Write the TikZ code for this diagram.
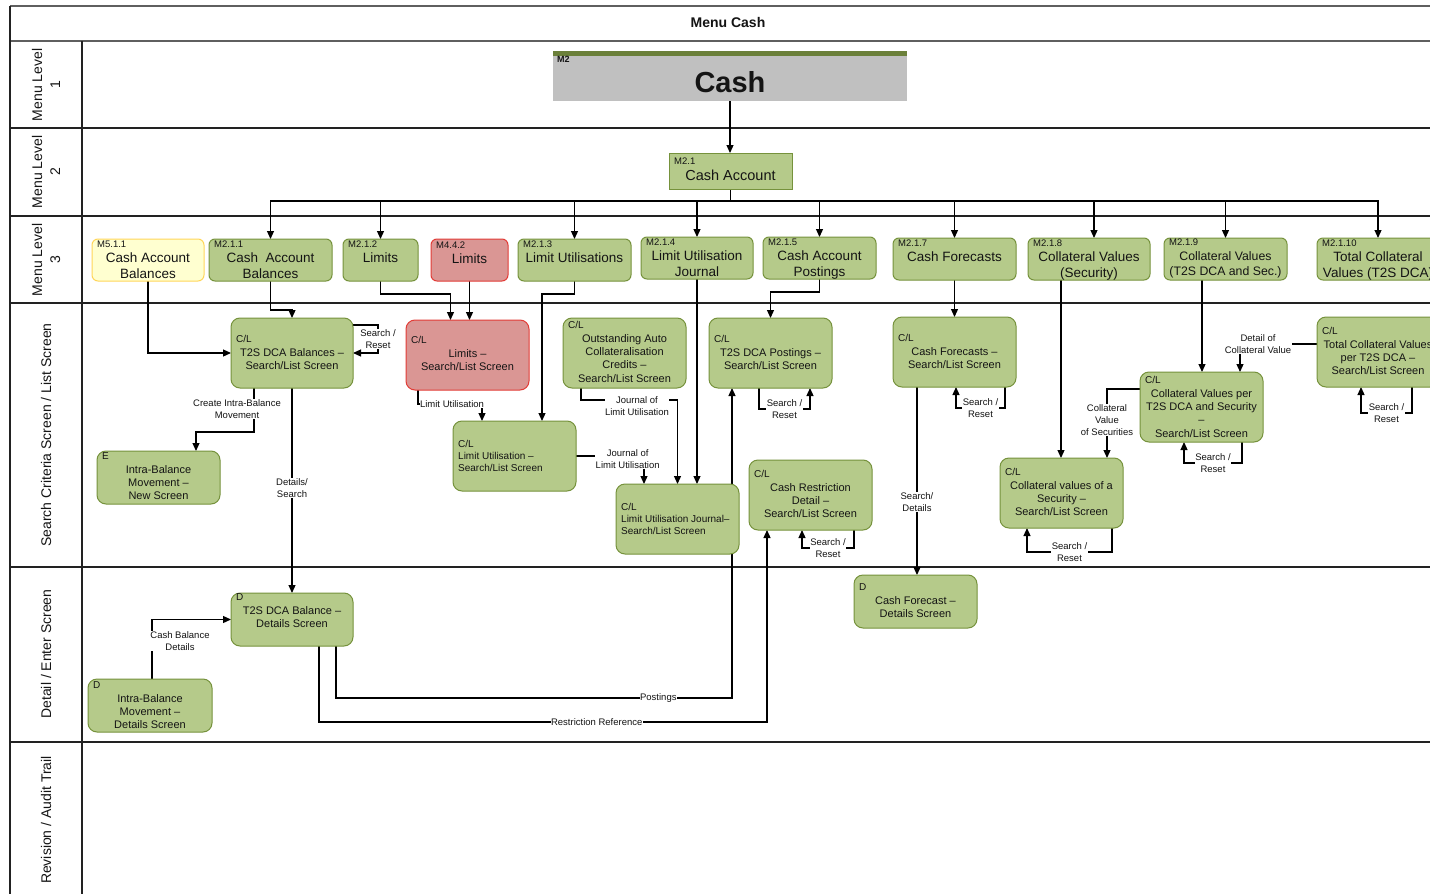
\documentclass[tikz,border=0pt]{standalone}
\usepackage{fontspec}
\setmainfont{Liberation Sans}
\usetikzlibrary{arrows.meta}
\pgfdeclarelayer{background}
\pgfsetlayers{background,main}
\definecolor{gfill}{RGB}{181,202,138}
\definecolor{gline}{RGB}{118,146,60}
\definecolor{rfill}{RGB}{218,150,148}
\definecolor{rline}{RGB}{226,60,55}
\definecolor{yfill}{RGB}{255,255,208}
\definecolor{yline}{RGB}{255,214,90}
\definecolor{cashgray}{RGB}{192,192,192}
\definecolor{cashbar}{RGB}{107,128,58}
\definecolor{lanecol}{RGB}{34,34,34}
\definecolor{topcol}{RGB}{95,95,95}
\definecolor{txtcol}{RGB}{20,20,20}
\newcommand\mybox[9]{%
  \node[#1, minimum width={(#5-#3)*1pt}, minimum height={(#6-#4)*1pt}] (#2) at ({(#3+#5)/2},{(#4+#6)/2}) {};
  \node[#1tag, anchor=north west] (#2-tag) at (#3+5,#8-3.5) {#7};
  \node[#1txt, anchor=north] (#2-txt) at ({(#3+#5)/2},#8+9) {#9};
}
\begin{document}
\begin{tikzpicture}[x=1pt,y=-1pt,
  base3/.style={draw=gline, fill=gfill, line width=1pt, rounded corners=6pt, inner sep=0pt, outer sep=0pt},
  g3/.style={base3},
  y3/.style={base3, draw=yline, fill=yfill},
  r3/.style={base3, draw=rline, fill=rfill},
  g3tag/.style={font=\fontsize{9.5}{11}\selectfont, inner sep=0pt, text=txtcol},
  y3tag/.style={g3tag}, r3tag/.style={g3tag},
  g3txt/.style={font=\fontsize{13.5}{16}\selectfont, align=center, inner sep=0pt, text=txtcol},
  y3txt/.style={g3txt}, r3txt/.style={g3txt},
  g3s/.style={g3}, g3stag/.style={g3tag},
  g3stxt/.style={g3txt, font=\fontsize{12.3}{15}\selectfont},
  ca/.style={draw=gline, fill=gfill, line width=1pt, inner sep=0pt, outer sep=0pt},
  catag/.style={g3tag},
  catxt/.style={g3txt, font=\fontsize{14.5}{17}\selectfont},
  g4/.style={base3, rounded corners=9pt},
  r4/.style={g4, draw=rline, fill=rfill},
  g4tag/.style={font=\fontsize{10}{12}\selectfont, inner sep=0pt, text=txtcol},
  r4tag/.style={g4tag},
  g4txt/.style={font=\fontsize{11}{13.3}\selectfont, align=center, inner sep=0pt, text=txtcol},
  r4txt/.style={g4txt},
  g4l/.style={g4},
  g4ltag/.style={g4tag, align=left, font=\fontsize{10}{11.8}\selectfont},
  g4ltxt/.style={inner sep=0pt},
  arr/.style={draw=black, line width=1.2pt, -{Triangle[length=8pt,width=7pt]}},
  lbl/.style={font=\fontsize{9.5}{12}\selectfont, fill=white, inner sep=0.5pt, align=center, text=txtcol},
  lane/.style={rotate=90, font=\fontsize{14}{18}\selectfont, align=center, text=txtcol},
  topline/.style={draw=topcol, line width=2pt},
  laneline/.style={draw=lanecol, line width=1.3pt}
]
\useasboundingbox (0,0) rectangle (1430,894);
\begin{pgfonlayer}{background}
\fill[white] (0,0) rectangle (1430,894);
\end{pgfonlayer}
\clip (0,0) rectangle (1430,894);

% title and lanes
\node[font=\bfseries\fontsize{14}{16}\selectfont, text=txtcol] (title) at (728,22) {Menu Cash};
\node[lane] (l1) at (46,85) {Menu Level\\1};
\node[lane] (l2) at (46,172) {Menu Level\\2};
\node[lane] (l3) at (46,260) {Menu Level\\3};
\node[lane] (l4) at (46,435) {Search Criteria Screen / List Screen};
\node[lane] (l5) at (46,654) {Detail / Enter Screen};
\node[lane] (l6) at (46,820) {Revision / Audit Trail};

% level 1
\node[fill=cashgray, minimum width=354pt, minimum height=50pt, inner sep=0pt, outer sep=0pt] (cash) at (730,76) {};
\fill[cashbar] (cash.north west) rectangle ([yshift=-5pt]cash.north east);
\node[font=\bfseries\fontsize{9}{10}\selectfont, anchor=north west, inner sep=0pt, text=txtcol] (cash-tag) at (557,56) {M2};
\node[font=\bfseries\fontsize{29}{32}\selectfont, text=txtcol] (cash-txt) at (730,82) {Cash};

% level 2
\mybox{ca}{ca}{669}{153}{792}{189}{M2.1}{161}{Cash Account}

% level 3
\mybox{y3}{cab}{92}{239}{204}{281}{M5.1.1}{244}{Cash Account\\Balances}
\mybox{g3}{m211}{209}{239}{332}{281}{M2.1.1}{244}{Cash\ \ Account\\Balances}
\mybox{g3}{m212}{343}{239}{418}{281}{M2.1.2}{244}{Limits}
\mybox{r3}{m442}{431}{239}{508}{281}{M4.4.2}{245}{Limits}
\mybox{g3}{m213}{518}{239}{631}{281}{M2.1.3}{244}{Limit Utilisations}
\mybox{g3}{m214}{641}{237}{753}{279}{M2.1.4}{242}{Limit Utilisation\\Journal}
\mybox{g3}{m215}{763}{237}{876}{279}{M2.1.5}{242}{Cash Account\\Postings}
\mybox{g3}{m217}{893}{238}{1016}{280}{M2.1.7}{243}{Cash Forecasts}
\mybox{g3}{m218}{1028}{238}{1150}{280}{M2.1.8}{243}{Collateral Values\\(Security)}
\mybox{g3s}{m219}{1164}{238}{1287}{280}{M2.1.9}{242}{Collateral Values\\(T2S DCA and Sec.)}
\mybox{g3}{m2110}{1317}{238}{1439}{280}{M2.1.10}{243}{Total Collateral\\Values (T2S DCA)}

% level 4
\mybox{g4}{bal}{231}{318}{353}{388}{C/L}{339}{T2S DCA Balances –\\Search/List Screen}
\mybox{r4}{lim}{406}{320}{529}{390}{C/L}{340}{Limits –\\Search/List Screen}
\mybox{g4}{oac}{563}{318}{686}{388}{C/L}{325}{Outstanding Auto\\Collateralisation\\Credits –\\Search/List Screen}
\mybox{g4}{pst}{709}{318}{832}{388}{C/L}{339}{T2S DCA Postings –\\Search/List Screen}
\mybox{g4}{cfl}{893}{317}{1016}{387}{C/L}{338}{Cash Forecasts –\\Search/List Screen}
\mybox{g4}{tcv}{1317}{317}{1439}{387}{C/L}{331}{Total Collateral Values\\per T2S DCA –\\Search/List Screen}
\mybox{g4}{cvd}{1140}{372}{1263}{442}{C/L}{380}{Collateral Values per\\T2S DCA and Security\\–\\Search/List Screen}
\mybox{g4}{cvs}{1000}{458}{1123}{528}{C/L}{472}{Collateral values of a\\Security –\\Search/List Screen}
\mybox{g4}{crd}{749}{460}{872}{530}{C/L}{474}{Cash Restriction\\Detail –\\Search/List Screen}
\mybox{g4l}{luj}{616}{484}{739}{554}{C/L\\Limit Utilisation Journal–\\Search/List Screen}{507}{}
\mybox{g4l}{lu}{453}{421}{576}{491}{C/L\\Limit Utilisation –\\Search/List Screen}{444}{}
\mybox{g4}{ibn}{97}{451}{220}{504}{E}{456}{Intra-Balance\\Movement –\\New Screen}

% level 5
\mybox{g4}{bdt}{231}{593}{353}{646}{D}{597}{T2S DCA Balance –\\Details Screen}
\mybox{g4}{ibd}{88}{679}{212}{732}{D}{685}{Intra-Balance\\Movement –\\Details Screen}
\mybox{g4}{cfd}{854}{575}{977}{628}{D}{587}{Cash Forecast –\\Details Screen}

\begin{pgfonlayer}{background}
% lane lines
\draw[topline] (10,6) -- (1430,6);
\draw[topline] (10,41) -- (1430,41);
\foreach \yy in {128,216,303,567,742} \draw[laneline] (10,\yy) -- (1430,\yy);
\draw[laneline] (10,6) -- (10,894);
\draw[laneline] (82,41) -- (82,894);

% menu tree
\draw[arr] (cash.south) -- ++(0,52);
\foreach \t in {m211,m212,m213,m214,m215,m217,m219,m2110}
  \draw[arr] (ca.south) -- ++(0,12) -| (\t.north);
\draw[arr] (ca.south) -- ++(0,12) -| ([xshift=5pt]m218.north);

% balances
\draw[arr] (cab.south) |- (bal.west);
\draw[arr] (m211.south) -- ++(0,29) -| (bal.north);
\draw[arr] ([yshift=-7pt]bal.north east) -- ++(25,0) |- (bal.east) node[lbl,pos=0.25]{Search /\\Reset};
\draw[arr] ([xshift=-38pt]bal.south) -- ++(0,44) node[lbl,pos=0.48,xshift=-17pt]{Create Intra-Balance\\Movement} -| ([xshift=37.5pt]ibn.north);
\draw[arr] (bal.south) -- (bdt.north) node[lbl,pos=0.49]{Details/\\Search};
\draw[arr] ([xshift=2pt]ibd.north) |- (bdt.west) node[lbl,pos=0.317,xshift=28pt]{Cash Balance\\Details};

% limits
\draw[arr] (m212.south) -- ++(0,13) -| ([xshift=-17pt]lim.north);
\draw[arr] (m442.south) -- ++(0,39);
\draw[arr] (m213.south) -- ++(0,13) -| ([xshift=27.5pt]lu.north);
\draw[arr] ([xshift=12pt]lim.south west) -- ++(0,14) -| ([xshift=-32.5pt]lu.north) node[lbl,pos=0.25,xshift=2pt]{Limit Utilisation};
\draw[arr] ([xshift=18pt]oac.south west) -- ++(0,12) -| (luj.north) node[lbl,pos=0.29,yshift=-6pt]{Journal of\\Limit Utilisation};
\draw[arr] (lu.east) -| ([xshift=-33.5pt]luj.north) node[lbl,pos=0.38,yshift=-3.5pt]{Journal of\\Limit Utilisation};
\draw[arr] (m214.south) -- ++(0,205);

% postings and restriction
\draw[arr] (m215.south) -- ++(0,13) -| (pst.north);
\draw[arr] ([xshift=-11.5pt]pst.south) -- ++(0,21) -| ([xshift=39.5pt]pst.south) node[lbl,pos=0.25]{Search /\\Reset};
\draw[arr] ([xshift=43.5pt]crd.south) -- ++(0,18) -| ([xshift=-8.5pt]crd.south) node[lbl,pos=0.25]{Search /\\Reset};
\draw[arr] ([xshift=44pt]bdt.south) -- ++(0,52) -| ([xshift=-38.5pt]pst.south) node[lbl,pos=0.407]{Postings};
\draw[arr] ([xshift=27pt]bdt.south) -- ++(0,76) -| ([xshift=-43.5pt]crd.south) node[lbl,pos=0.31]{Restriction Reference};

% forecasts
\draw[arr] (m217.south) -- (cfl.north);
\draw[arr] ([xshift=-37.5pt]cfl.south) -- ++(0,188) node[lbl,pos=0.61]{Search/\\Details};
\draw[arr] ([xshift=50.5pt]cfl.south) -- ++(0,21) -| ([xshift=1.5pt]cfl.south) node[lbl,pos=0.25]{Search /\\Reset};

% collateral
\draw[arr] ([xshift=-28pt]m218.south) -- ++(0,178);
\draw[arr] ([xshift=-23.5pt]m219.south) -- ++(0,92);
\draw[arr] ([yshift=8pt]tcv.west) -| ([xshift=38.5pt]cvd.north) node[lbl,pos=0.383]{Detail of\\Collateral Value};
\draw[arr] ([yshift=18pt]cvd.west) -| ([xshift=45.5pt]cvs.north) node[lbl,pos=0.725]{Collateral\\Value\\of Securities};
\draw[arr] ([xshift=40.5pt]cvd.south) -- ++(0,21) -| ([xshift=-17.5pt]cvd.south) node[lbl,pos=0.25]{Search /\\Reset};
\draw[arr] ([xshift=50.5pt]cvs.south) -- ++(0,24) -| ([xshift=-34.5pt]cvs.south) node[lbl,pos=0.25]{Search /\\Reset};
\draw[arr] ([xshift=34pt]tcv.south) -- ++(0,26) -| ([xshift=-17pt]tcv.south) node[lbl,pos=0.25]{Search /\\Reset};
\end{pgfonlayer}
\end{tikzpicture}
\end{document}
